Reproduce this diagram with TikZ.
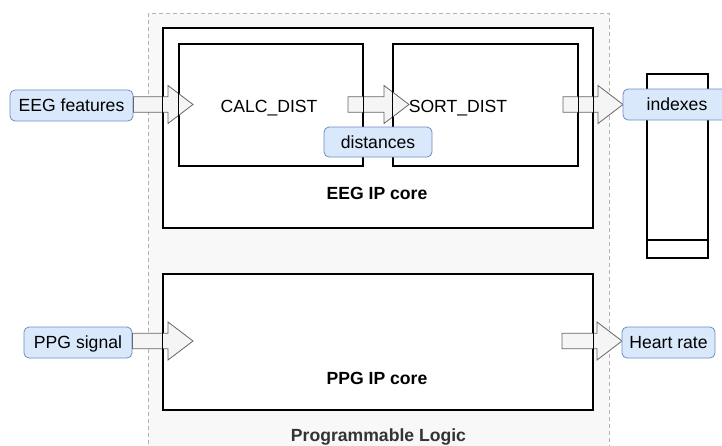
\documentclass[tikz,border=0pt]{standalone}
\usepackage{fontspec}
\setmainfont{Liberation Sans}
\usetikzlibrary{calc,positioning}

\definecolor{plfill}{HTML}{F8F8F8}
\definecolor{plline}{HTML}{B3B3B3}
\definecolor{tagfill}{HTML}{DAE8FC}
\definecolor{tagline}{HTML}{6C8EBF}
\definecolor{arrfill}{HTML}{F5F5F5}
\definecolor{arrline}{HTML}{666666}
\definecolor{pltext}{HTML}{333333}

\tikzset{
  box/.style={draw=black, line width=1.3pt, fill=white, inner sep=0pt},
  boxline/.style={draw=black, line width=1.3pt},
  tag/.style={draw=tagline, fill=tagfill, line width=0.8pt, rounded corners=5pt,
    inner sep=0pt, text height=12.8pt, text depth=0pt,
    font=\fontsize{17.6}{20}\selectfont},
  plain/.style={inner sep=0pt, text height=12.8pt, text depth=0pt,
    font=\fontsize{17.6}{20}\selectfont},
  bold/.style={plain, font=\fontsize{17.6}{20}\selectfont\bfseries},
  % wide block arrow drawn from the start point to the tip
  blockarrow/.style={fill=arrfill, draw=arrline, line width=0.8pt, line join=miter,
    to path={let \p1=(\tikztostart), \p2=(\tikztotarget) in
      (\x1,\y1+7.7pt) -- (\x2-25pt,\y1+7.7pt) -- (\x2-25pt,\y1+19pt) -- (\x2,\y1)
      -- (\x2-25pt,\y1-19pt) -- (\x2-25pt,\y1-7.7pt) -- (\x1,\y1-7.7pt) -- cycle}}
}

\begin{document}
\begin{tikzpicture}[x=1pt,y=-1pt]
\useasboundingbox (0,0) rectangle (722,445);
\path[clip] (0,0) rectangle (722,445);

% programmable logic region
\draw[plline, fill=plfill, line width=0.8pt, dash pattern=on 4pt off 3pt]
  (148,13) rectangle (609,452);
\node[bold, text=pltext] (pl) at (378.5,435) {Programmable Logic};

% IP cores
\node[box, minimum width=430pt, minimum height=200pt] (eeg) at (378,128) {};
\node[box, minimum width=430pt, minimum height=136pt] (ppg) at (378,342) {};
\node[box, minimum width=184pt, minimum height=122pt] (calc) at (271,105) {};
\node[box, minimum width=185pt, minimum height=122pt] (sort) at (485.5,105) {};

\node[bold] (eeglbl) at (377,193) {EEG IP core};
\node[bold] (ppglbl) at (377,378) {PPG IP core};
\node[plain] (calclbl) at (269,106) {CALC\_DIST};
\node[plain] (sortlbl) at (458,106) {SORT\_DIST};

% output memory
\node[box, minimum width=61pt, minimum height=184pt] (mem) at (677.5,166) {};
\coordinate (memdl) at (647,240);
\coordinate (memdr) at (708,240);
\draw[boxline, line width=1.2pt] (memdl) -- (memdr);

% signal tags
\node[tag, minimum width=123pt, minimum height=31pt] (eegf) at (71.5,105.5) {EEG features};
\node[tag, minimum width=108pt, minimum height=31pt] (ppgs) at (78,342.5) {PPG signal};

% named ends of the block arrows
\coordinate (t1) at (193,104.5);
\coordinate (s2) at (348,104.5);
\coordinate (t2) at (409,104.5);
\coordinate (s3) at (563,104.5);
\coordinate (t4) at (193,341);
\coordinate (s5) at (562,341);

\draw[blockarrow] (eegf.east |- t1) to (t1);
\draw[blockarrow] (s2) to (t2);
\draw[blockarrow] (s3) to (s3 -| 623,0);
\draw[blockarrow] (ppgs.east |- t4) to (t4);
\draw[blockarrow] (s5) to (s5 -| 622,0);

% box borders stay visible over the arrows
\foreach \b in {eeg,ppg,calc,sort}
  \draw[boxline] (\b.north west) rectangle (\b.south east);

\node[tag, minimum width=108pt, minimum height=30pt] (dist) at (378,142) {distances};
\node[tag, minimum width=108pt, minimum height=31pt] (idx) at (677,104.5) {indexes};
\node[tag, minimum width=93pt, minimum height=31pt] (hr) at (668.5,342.5) {Heart rate};
\end{tikzpicture}
\end{document}
